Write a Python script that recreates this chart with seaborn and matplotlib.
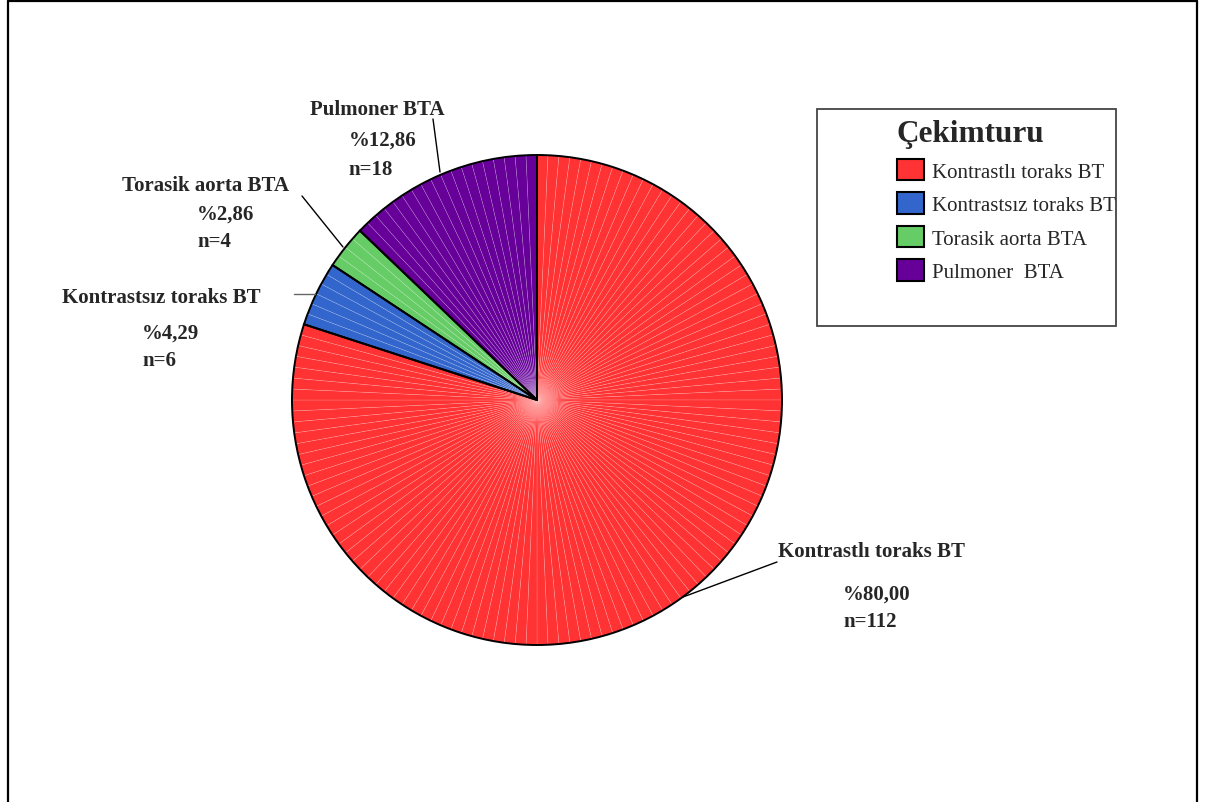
import matplotlib
matplotlib.use("Agg")
import matplotlib.pyplot as plt
import seaborn as sns
from matplotlib.patches import Patch, Rectangle
from matplotlib.lines import Line2D

# ---- data ----
categories = ["Kontrastlı toraks BT", "Kontrastsız toraks BT", "Torasik aorta BTA", "Pulmoner BTA"]
legend_labels = ["Kontrastlı toraks BT", "Kontrastsız toraks BT", "Torasik aorta BTA", "Pulmoner  BTA"]
counts = [112, 6, 4, 18]
percent_labels = ["%80,00", "%4,29", "%2,86", "%12,86"]
legend_title = "Çekimturu"
colors = sns.color_palette(["#ff3333", "#3366cc", "#66cc66", "#660099"])

sns.set_style("white")
plt.rcParams['font.family'] = ['Liberation Serif', 'DejaVu Serif']

W, H = 1214, 803
fig = plt.figure(figsize=(W / 100, H / 100), dpi=100)
ax = fig.add_axes([0, 0, 1, 1])
ax.set_xlim(0, W)
ax.set_ylim(0, H)
ax.set_aspect('equal')
ax.axis('off')

def Y(y):
    return H - y

cx, cy, r = 537, Y(401), 245

# per-case sub-wedges (fine radial lines)
sub_vals, sub_cols = [], []
for c, col in zip(counts, colors):
    sub_vals += [1] * c
    sub_cols += [col] * c
ax.pie(sub_vals, colors=sub_cols, startangle=90, counterclock=False,
       center=(cx, cy), radius=r,
       wedgeprops=dict(edgecolor=(1, 1, 1, 0.22), linewidth=0.45))
# main category wedges with black outline
ax.pie(counts, colors=colors, startangle=90, counterclock=False,
       center=(cx, cy), radius=r,
       wedgeprops=dict(fill=False, edgecolor="black", linewidth=1.4))
ax.set_xlim(0, W)
ax.set_ylim(0, H)

# labels: (name x,y), (pct x,y), (n x,y), leader line
lab_pos = {
    "Kontrastlı toraks BT": ((778, 552), (843, 595), (843, 622), ((777, 563), (683, 598)), "black"),
    "Kontrastsız toraks BT": ((62, 298), (142, 334), (142, 361), ((294, 295), (315, 295)), "#666666"),
    "Torasik aorta BTA": ((122, 186), (197, 215), (197, 242), ((302, 197), (343, 248)), "black"),
    "Pulmoner BTA": ((310, 110), (349, 141), (348, 170), ((433, 120), (440, 173)), "black"),
}
for cat, cnt, pct in zip(categories, counts, percent_labels):
    (nx, ny), (px, py), (qx, qy), ((x1, y1), (x2, y2)), lc = lab_pos[cat]
    kw = dict(fontsize=15, fontweight='bold', ha='left', va='center')
    ax.text(nx, Y(ny), cat, **kw)
    ax.text(px, Y(py), pct, **kw)
    ax.text(qx, Y(qy), f"n={cnt}", **kw)
    ax.plot([x1, x2], [Y(y1), Y(y2)], color=lc, lw=1.0)

# legend box
ax.add_patch(Rectangle((817, Y(327)), 1116 - 817, 327 - 110, fill=False,
                       edgecolor="#444444", lw=1.3))
handles = [Patch(facecolor=c, edgecolor="black", linewidth=1.5) for c in colors]
leg = ax.legend(handles, legend_labels, title=legend_title,
                loc='upper left', bbox_to_anchor=(897 / W, 1 - 120 / H),
                bbox_transform=fig.transFigure, frameon=False,
                fontsize=15, title_fontproperties=dict(size=22.5, weight='bold', family='Liberation Serif'),
                handlelength=1.3, handleheight=1.2, handletextpad=0.4,
                labelspacing=0.52, borderpad=0, borderaxespad=0, alignment='left')

# outer frame (open at bottom)
for xs, ys in [((8, 8), (Y(2), 0)), ((8, 1197), (Y(2), Y(2))), ((1197, 1197), (Y(2), 0))]:
    fig.add_artist(Line2D([x / W for x in xs], [y / H for y in ys], color="black", lw=1.6))

fig.savefig("out.png", dpi=100)
